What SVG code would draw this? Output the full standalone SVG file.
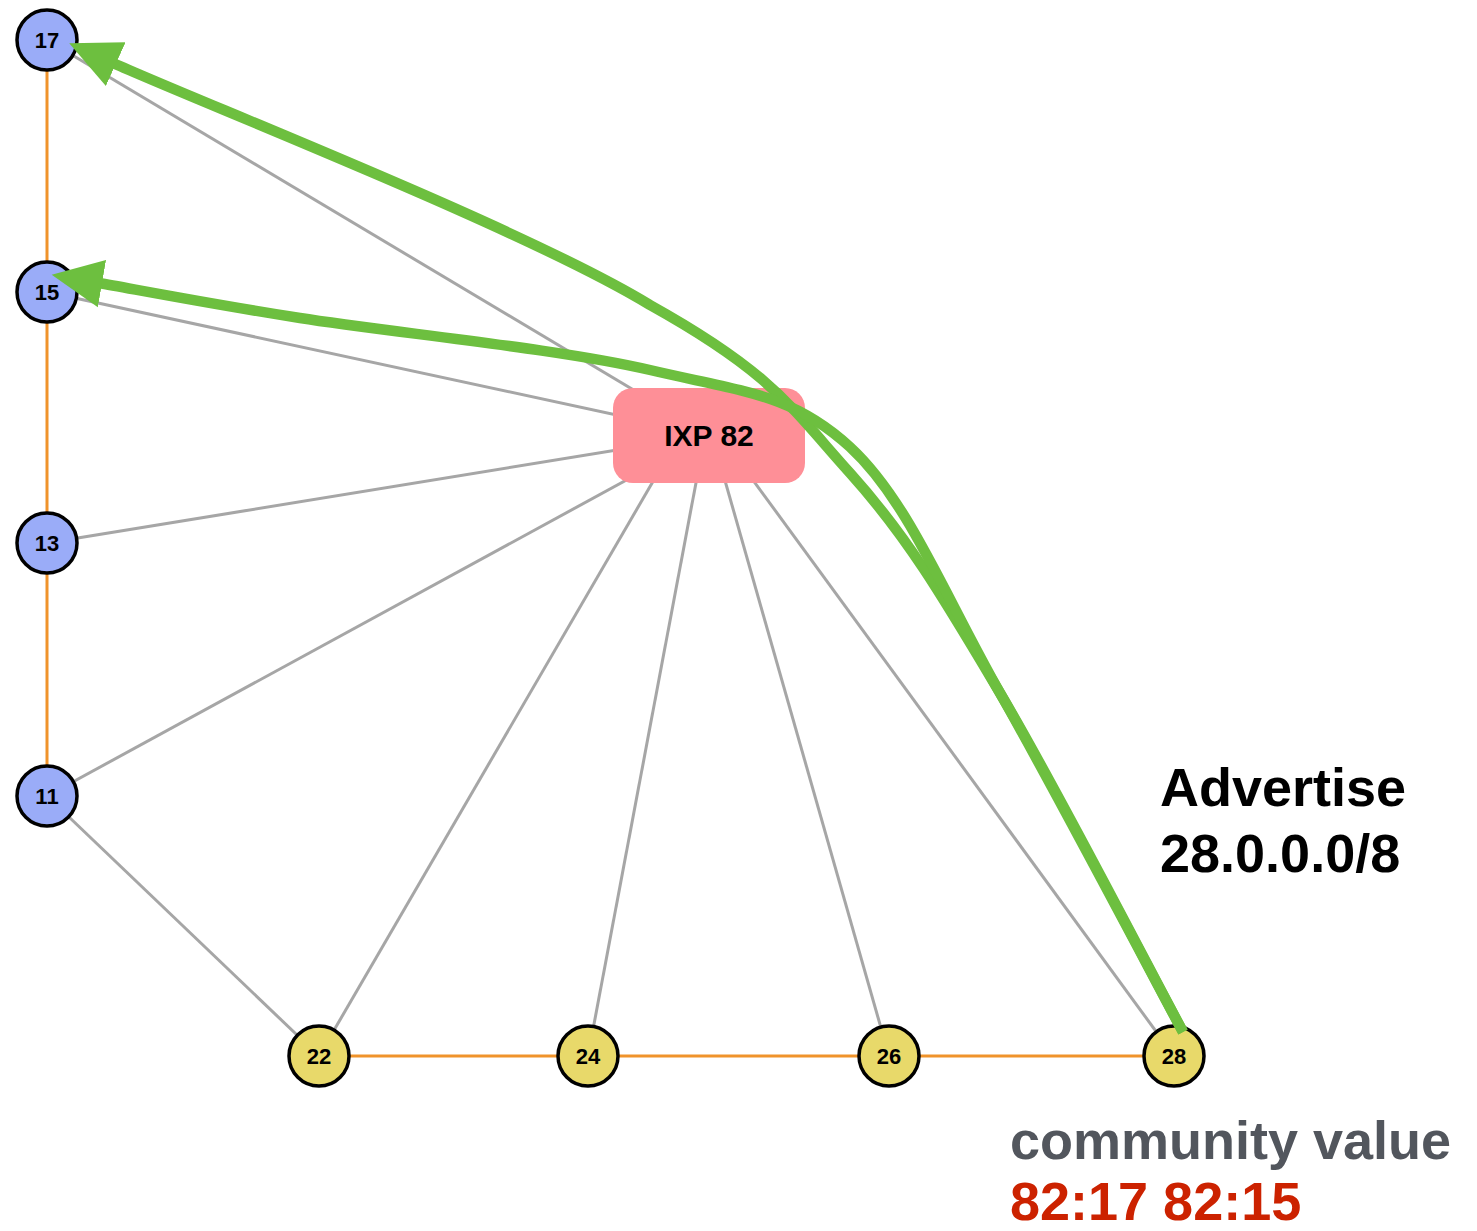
<svg xmlns="http://www.w3.org/2000/svg" width="1477" height="1231" viewBox="0 0 1477 1231">
<style>
.g{stroke:#a6a6a6;stroke-width:3;fill:none}
.o{stroke:#f0932b;stroke-width:3;fill:none}
.a{stroke:#6dbf3f;stroke-width:10.5;fill:none}
.b{fill:#9aacf8;stroke:#000;stroke-width:3.5}
.y{fill:#e8d96a;stroke:#000;stroke-width:3.5}
.t{font-family:"Liberation Sans",Arial,sans-serif;font-weight:bold;font-size:22px;text-anchor:middle;fill:#000}
.big{font-family:"Liberation Sans",Arial,sans-serif;font-weight:bold;font-size:54px}
</style>
<defs>
<marker id="ah" markerUnits="userSpaceOnUse" viewBox="-3 -25 53 50" markerWidth="53" markerHeight="50" refX="0" refY="0" orient="auto">
<path d="M-3,-24 L48,0 L-3,24 Z" fill="#6dbf3f"/>
</marker>
</defs>
<g id="connectors">
<line class="o" x1="47" y1="40" x2="47" y2="796"/>
<line class="o" x1="319" y1="1056" x2="1174" y2="1056"/>
<line class="g" x1="47" y1="40" x2="709" y2="435"/>
<line class="g" x1="47" y1="292" x2="709" y2="435"/>
<line class="g" x1="47" y1="543" x2="709" y2="435"/>
<line class="g" x1="47" y1="796" x2="709" y2="435"/>
<line class="g" x1="47" y1="796" x2="319" y2="1056"/>
<line class="g" x1="319" y1="1056" x2="680" y2="435"/>
<line class="g" x1="588" y1="1056" x2="705" y2="435"/>
<line class="g" x1="889" y1="1056" x2="712" y2="435"/>
<line class="g" x1="1174" y1="1056" x2="720" y2="435"/>
</g>
<g id="ixp82">
<rect x="613" y="388" width="192" height="95" rx="20" fill="#fe8f97"/>
<text class="t" x="709" y="446" style="font-size:30px">IXP 82</text>
</g>
<g id="n17"><circle class="b" cx="47" cy="40" r="30"/><text class="t" x="47" y="48">17</text></g>
<g id="n15"><circle class="b" cx="47" cy="292" r="30"/><text class="t" x="47" y="300">15</text></g>
<g id="n13"><circle class="b" cx="47" cy="543" r="30"/><text class="t" x="47" y="551">13</text></g>
<g id="n11"><circle class="b" cx="47" cy="796" r="30"/><text class="t" x="47" y="804">11</text></g>
<g id="n22"><circle class="y" cx="319" cy="1056" r="30"/><text class="t" x="319" y="1064">22</text></g>
<g id="n24"><circle class="y" cx="588" cy="1056" r="30"/><text class="t" x="588" y="1064">24</text></g>
<g id="n26"><circle class="y" cx="889" cy="1056" r="30"/><text class="t" x="889" y="1064">26</text></g>
<g id="n28"><circle class="y" cx="1174" cy="1056" r="30"/><text class="t" x="1174" y="1064">28</text></g>
<g id="arrows">
<path class="a" d="M1183,1032 C1152.5,975.5 1055.5,786.2 1000,693 C944.5,599.8 908.3,537.7 850,473 C791.7,408.3 772.8,373.3 650,305 C527.2,230 202.5,103.3 113,63" marker-end="url(#ah)"/>
<path class="a" d="M1183,1032 C1152.5,975.5 1055.5,790.5 1000,693 C944.5,595.5 908.3,500.8 850,447 C791.7,393.2 741.7,391.5 650,370 C558.3,348.5 391.8,332.5 300,318 C208.2,303.5 132.5,288.8 99,283" marker-end="url(#ah)"/>
</g>
<g id="labels">
<text class="big" x="1160" y="806" fill="#000">Advertise</text>
<text class="big" x="1160" y="872" fill="#000">28.0.0.0/8</text>
<text class="big" x="1010" y="1159" fill="#52565d">community value</text>
<text class="big" x="1010" y="1220" fill="#cc2200">82:17 82:15</text>
</g>
</svg>
